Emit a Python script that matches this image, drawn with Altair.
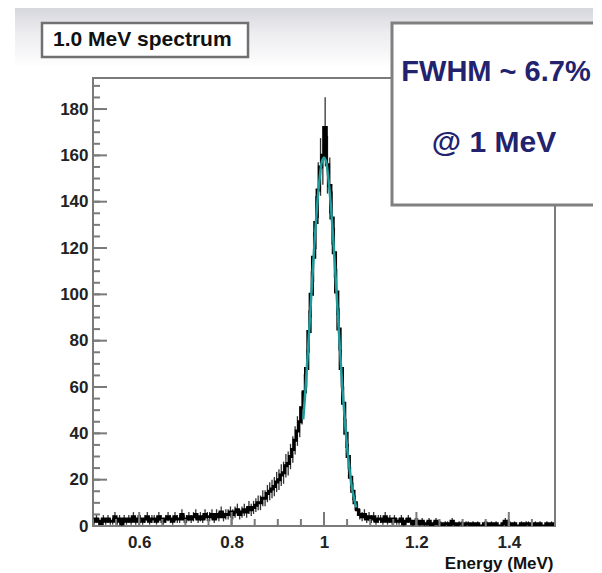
import altair as alt
import pandas as pd

# ---------------- data ----------------
E_MIN, E_MAX = 0.5, 1.5
BIN_WIDTH = 0.005

counts = [
    # 0.500 - 0.600
    2, 3, 2, 1, 3, 2, 3, 2, 2, 4, 2, 3, 1, 3, 2, 3, 2, 4, 2, 3,
    # 0.600 - 0.700
    3, 2, 3, 4, 2, 3, 3, 2, 4, 3, 2, 3, 4, 3, 2, 4, 3, 3, 5, 3,
    # 0.700 - 0.800
    3, 4, 3, 4, 5, 3, 4, 3, 5, 4, 4, 5, 3, 5, 4, 6, 4, 5, 5, 6,
    # 0.800 - 0.900
    5, 6, 7, 5, 6, 7, 6, 8, 7, 8, 9, 10, 10, 12, 12, 14, 15, 16, 17, 19,
    # 0.900 - 1.000
    20, 22, 23, 26, 27, 30, 33, 37, 41, 45, 51, 58, 68, 84, 100, 116, 131, 145, 155, 160,
    # 1.000 - 1.100
    172, 156, 147, 133, 118, 101, 85, 68, 53, 40, 30, 21, 15, 10, 7, 5, 4, 5, 3, 4,
    # 1.100 - 1.200
    3, 4, 2, 3, 3, 2, 4, 2, 3, 2, 3, 2, 2, 3, 1, 2, 3, 2, 1, 2,
    # 1.200 - 1.300
    2, 1, 2, 1, 1, 2, 0, 1, 2, 1, 1, 0, 1, 1, 0, 2, 1, 0, 1, 1,
    # 1.300 - 1.400
    0, 1, 1, 0, 1, 0, 1, 0, 0, 1, 1, 0, 1, 0, 1, 0, 0, 1, 2, 0,
    # 1.400 - 1.500
    1, 0, 1, 0, 0, 1, 0, 1, 1, 0, 0, 1, 0, 1, 0, 0, 1, 0, 1, 0,
]

fit_energy = [0.955, 0.96, 0.965, 0.97, 0.975, 0.98, 0.985, 0.99, 0.995, 1.0,
              1.005, 1.01, 1.015, 1.02, 1.025, 1.03, 1.035, 1.04, 1.045, 1.05,
              1.055, 1.06, 1.065, 1.07]
fit_counts = [46, 59, 75, 91, 108, 124, 138, 149, 157, 159,
              157, 149, 138, 124, 108, 91, 75, 59, 46, 34,
              25, 17, 12, 8]

x_major = [0.6, 0.8, 1.0, 1.2, 1.4]
y_major = [0, 20, 40, 60, 80, 100, 120, 140, 160, 180]
x_minor = [round(0.5 + 0.05 * i, 2) for i in range(21)]
y_minor = list(range(0, 195, 5))

title_text = "1.0 MeV spectrum"
fwhm_line1 = "FWHM ~ 6.7%"
fwhm_line2 = "@ 1 MeV"
x_title = "Energy (MeV)"

# ---------------- layout ----------------
W, H = 462, 448
FONT = "Liberation Sans"
FRAME = "#7a7a7a"

spec = pd.DataFrame({
    "energy": [E_MIN + BIN_WIDTH * (i + 0.5) for i in range(len(counts))],
    "n": counts,
})
fit = pd.DataFrame({"energy": fit_energy, "n": fit_counts})
one = pd.DataFrame({"k": [0]})

xs = alt.Scale(domain=[E_MIN, E_MAX], nice=False, zero=False)
ys = alt.Scale(domain=[0, 193.4], nice=False)

xaxis = alt.Axis(values=x_major, format="~g", ticks=False, domain=False, grid=False,
                 labelFont=FONT, labelFontSize=17, labelFontWeight="bold", labelColor="#222",
                 labelPadding=8, title=x_title, titleFont=FONT, titleFontSize=17,
                 titleFontWeight="bold", titleColor="#111", titleAlign="right",
                 titleAnchor="end", titleX=W - 2, titleY=37, titleBaseline="middle")
yaxis = alt.Axis(values=y_major, format="d", ticks=False, domain=False, grid=False,
                 labelFont=FONT, labelFontSize=17, labelFontWeight="bold", labelColor="#222",
                 labelPadding=5, title=None)


def X(field):
    return alt.X(field, scale=xs, axis=xaxis)


def Y(field):
    return alt.Y(field, scale=ys, axis=yaxis)


band = alt.Chart(one).mark_rect(
    fill=alt.Gradient(gradient="linear",
                      stops=[alt.GradientStop(color="#d6d6de", offset=0),
                             alt.GradientStop(color="#ececef", offset=0.4),
                             alt.GradientStop(color="#ffffff", offset=1)],
                      x1=0, x2=0, y1=0, y2=1)
).encode(x=alt.value(-78), x2=alt.value(510), y=alt.value(-70), y2=alt.value(-10))

frame = alt.Chart(one).mark_rect(fill="white", stroke=FRAME, strokeWidth=2).encode(
    x=alt.value(0), x2=alt.value(W), y=alt.value(0), y2=alt.value(H))

errs = alt.Chart(spec).transform_calculate(
    lo="max(0, datum.n - sqrt(datum.n))", hi="datum.n + sqrt(datum.n)"
).mark_rule(color="#333333", strokeWidth=1.3, clip=True).encode(
    x=X("energy:Q"), y=Y("lo:Q"), y2="hi:Q",
)

line = alt.Chart(spec).mark_line(color="black", strokeWidth=3, interpolate="step", clip=True).encode(
    x=X("energy:Q"), y=Y("n:Q"),
)

fitline = alt.Chart(fit).mark_line(color="#1f9c9c", strokeWidth=2.5, interpolate="monotone", clip=True).encode(
    x=X("energy:Q"), y=Y("n:Q"),
)

ytick_major = alt.Chart(pd.DataFrame({"v": y_major})).mark_rule(color=FRAME, strokeWidth=2).encode(
    y=Y("v:Q"), x=alt.value(0), x2=alt.value(14))
ytick_minor = alt.Chart(pd.DataFrame({"v": y_minor})).mark_rule(color=FRAME, strokeWidth=2).encode(
    y=Y("v:Q"), x=alt.value(0), x2=alt.value(7))
xtick_major = alt.Chart(pd.DataFrame({"v": x_major})).mark_rule(color=FRAME, strokeWidth=2).encode(
    x=X("v:Q"), y=alt.value(H), y2=alt.value(H - 14))
xtick_minor = alt.Chart(pd.DataFrame({"v": x_minor})).mark_rule(color=FRAME, strokeWidth=2).encode(
    x=X("v:Q"), y=alt.value(H), y2=alt.value(H - 7))

title_box = alt.Chart(one).mark_rect(fill="white", stroke="#707070", strokeWidth=2.5).encode(
    x=alt.value(-51), x2=alt.value(155), y=alt.value(-55), y2=alt.value(-21))
title_txt = alt.Chart(one).mark_text(
    text=title_text, font=FONT, fontSize=21, fontWeight="bold", color="#111",
    align="left", baseline="middle").encode(x=alt.value(-40), y=alt.value(-38))

fwhm_box = alt.Chart(one).mark_rect(fill="white", stroke="#808080", strokeWidth=3).encode(
    x=alt.value(299), x2=alt.value(507), y=alt.value(-55), y2=alt.value(127))
fwhm_txt1 = alt.Chart(one).mark_text(
    text=fwhm_line1, font=FONT, fontSize=29, fontWeight="bold", color="#22226e",
    align="center", baseline="middle").encode(x=alt.value(403), y=alt.value(-6))
fwhm_txt2 = alt.Chart(one).mark_text(
    text=fwhm_line2, font=FONT, fontSize=30, fontWeight="bold", color="#22226e",
    align="center", baseline="middle").encode(x=alt.value(401), y=alt.value(65))

chart = alt.layer(
    band, frame, errs, line, fitline,
    ytick_major, ytick_minor, xtick_major, xtick_minor,
    title_box, title_txt, fwhm_box, fwhm_txt1, fwhm_txt2,
).properties(
    width=W, height=H,
    autosize=alt.AutoSizeParams(type="none"),
    padding={"left": 85, "top": 70, "right": 38, "bottom": 47},
).configure_view(stroke="transparent").configure(background="white")

chart.save("out.html", embed_options={"renderer": "svg", "actions": False})
